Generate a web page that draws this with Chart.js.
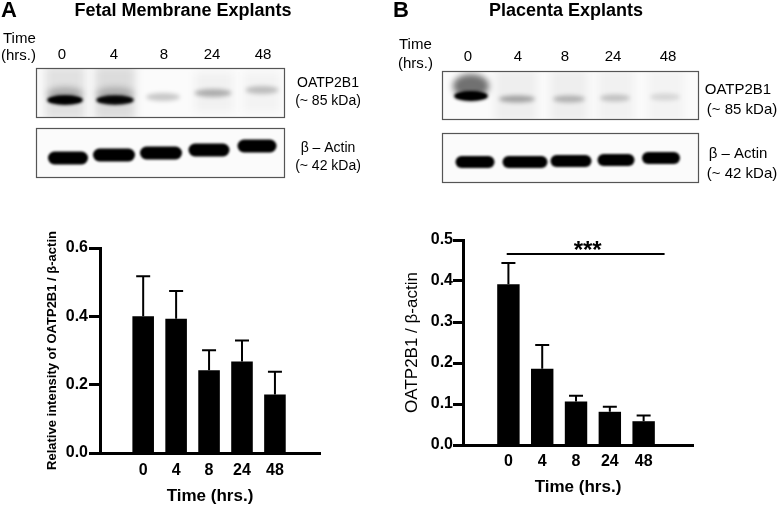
<!DOCTYPE html>
<html>
<head>
<meta charset="utf-8">
<script src="https://cdn.jsdelivr.net/npm/chart.js@4.4.1/dist/chart.umd.min.js"></script>
<style>
body{margin:0;background:#fff;width:782px;height:508px;overflow:hidden;position:relative;font-family:"Liberation Sans",Arial,sans-serif;color:#000}
.t{position:absolute;white-space:nowrap;line-height:1;transform:translate(-50%,-50%)}
.l{position:absolute;white-space:nowrap;line-height:1;transform:translateY(-50%)}
.b{font-weight:bold}
#blots{position:absolute;left:0;top:0}
#chartA{position:absolute;left:0;top:230px}
#chartB{position:absolute;left:391px;top:230px}
</style>
</head>
<body>
<canvas id="blots" width="782" height="230"></canvas>

<div class="l b" style="left:1px;top:10px;font-size:22px">A</div>
<div class="t b" style="left:183px;top:10px;font-size:18px">Fetal Membrane Explants</div>
<div class="l" style="left:3px;top:37px;font-size:15px">Time</div>
<div class="l" style="left:1px;top:54px;font-size:15px">(hrs.)</div>
<div id="lanesA"></div>
<div class="t" style="left:328px;top:82px;font-size:14px">OATP2B1</div>
<div class="t" style="left:328px;top:100px;font-size:14px">(~ 85 kDa)</div>
<div class="t" style="left:328px;top:147px;font-size:14px">β – Actin</div>
<div class="t" style="left:328px;top:165px;font-size:14px">(~ 42 kDa)</div>

<div class="l b" style="left:393px;top:10px;font-size:22px">B</div>
<div class="t b" style="left:566px;top:10px;font-size:18px">Placenta Explants</div>
<div class="l" style="left:399px;top:43px;font-size:15px">Time</div>
<div class="l" style="left:398px;top:62px;font-size:15px">(hrs.)</div>
<div id="lanesB"></div>
<div class="t" style="left:738px;top:88px;font-size:15px">OATP2B1</div>
<div class="t" style="left:742px;top:108px;font-size:15px">(~ 85 kDa)</div>
<div class="t" style="left:738px;top:152px;font-size:15px">β – Actin</div>
<div class="t" style="left:742px;top:172px;font-size:15px">(~ 42 kDa)</div>

<canvas id="chartA" width="340" height="278"></canvas>
<canvas id="chartB" width="391" height="278"></canvas>

<script>
// time points (hrs.)
const timeLabels=['0','4','8','24','48'];

// fetal membrane explants, OATP2B1 / beta-actin, mean and error
const fetalMean=[0.400,0.393,0.242,0.268,0.171];
const fetalErr=[0.117,0.081,0.059,0.061,0.067];
const fetalTicks=[0,0.2,0.4,0.6];

// placenta explants, OATP2B1 / beta-actin, mean and error
const placentaMean=[0.392,0.186,0.106,0.081,0.058];
const placentaErr=[0.052,0.058,0.014,0.012,0.014];
const placentaTicks=[0,0.1,0.2,0.3,0.4,0.5];

// significance bar over placenta chart (x in lane units, y in ratio units)
const sigFrom=-0.05, sigTo=4.62, sigLevel=0.466, sigText='***';

// blot band darkness per lane
const oatpFetal=[0.95,0.85,0.2,0.28,0.22];
const actinFetal=[1,1,1,1,1];
const oatpPlacenta=[1,0.32,0.26,0.2,0.12];
const actinPlacenta=[1,1,1,1,1];

const fontFamily='"Liberation Sans", Arial, sans-serif';
Chart.defaults.font.family=fontFamily;
Chart.defaults.color='#000';

// lane labels above the blots
const laneLabels=(el,xs,y)=>{
    let html='';
    xs.forEach((x,i)=>{
        html+='<div class="t" style="left:'+x+'px;top:'+y+'px;font-size:15px">'+timeLabels[i]+'</div>';
    });
    document.getElementById(el).innerHTML=html;
}
laneLabels('lanesA',[62,114,164,212,263],53);
laneLabels('lanesB',[468,518,565,613,668],55);

// ---------- blots ----------
const bctx=document.getElementById('blots').getContext('2d');

const blotBox=(x,y,w,h,drawInside)=>{
    bctx.save();
    bctx.fillStyle='#fbfbfb';
    bctx.fillRect(x,y,w,h);
    bctx.beginPath();
    bctx.rect(x,y,w,h);
    bctx.clip();
    drawInside();
    bctx.restore();
    bctx.strokeStyle='#555';
    bctx.lineWidth=1.2;
    bctx.strokeRect(x+0.5,y+0.5,w,h);
}

const blob=(cx,cy,w,h,alpha,blur)=>{
    bctx.save();
    bctx.filter='blur('+blur+'px)';
    bctx.fillStyle='rgba(0,0,0,'+alpha+')';
    bctx.beginPath();
    bctx.ellipse(cx,cy,w/2,h/2,0,0,Math.PI*2);
    bctx.fill();
    bctx.restore();
}

const actinBand=(cx,cy,w,h,alpha)=>{
    bctx.save();
    bctx.filter='blur(1.3px)';
    bctx.fillStyle='rgba(0,0,0,'+alpha+')';
    bctx.beginPath();
    bctx.roundRect(cx-w/2,cy-h/2,w,h,h/2);
    bctx.fill();
    bctx.restore();
}

const haze=(x,y,w,h,alpha)=>{
    bctx.save();
    bctx.filter='blur(4px)';
    bctx.fillStyle='rgba(0,0,0,'+alpha+')';
    bctx.fillRect(x,y,w,h);
    bctx.restore();
}

// A: fetal membrane
blotBox(36,68,248,49,()=>{
    const xs=[65,115,163,213,262], ys=[100,100,97,93,90], ws=[36,38,34,37,33];
    haze(45,66,40,54,0.10);
    haze(95,66,40,54,0.12);
    haze(195,72,38,40,0.04);
    haze(244,72,36,40,0.03);
    xs.forEach((x,i)=>{
        const a=oatpFetal[i];
        if (a>0.5){
            blob(x,ys[i]-6,ws[i],14,a*0.25,3);
            blob(x,ys[i],ws[i],10,a,1.8);
            blob(x,ys[i],ws[i]-4,6,a,1);
        }else{
            blob(x,ys[i],ws[i],8,a,2.2);
        }
    });
});
blotBox(36,128,248,49,()=>{
    const xs=[68,114,161,209,257], ys=[158,155,153,150,146], ws=[40,42,42,41,39];
    xs.forEach((x,i)=>{
        actinBand(x,ys[i],ws[i],13,actinFetal[i]);
    });
});

// B: placenta
blotBox(442,71,256,48,()=>{
    const xs=[471,517,569,615,665], ys=[96,99,99,98,97], ws=[34,36,32,30,30];
    haze(495,70,42,52,0.05);
    haze(550,70,38,52,0.05);
    haze(598,70,36,52,0.04);
    haze(648,70,36,52,0.03);
    xs.forEach((x,i)=>{
        const a=oatpPlacenta[i];
        if (a>0.5){
            blob(x,86,ws[i]+2,24,a*0.55,3);
            blob(x,96,ws[i],10,a,1.6);
            blob(x,96,ws[i]-4,6,a,0.8);
        }else{
            blob(x,ys[i],ws[i],7,a,2);
        }
    });
});
blotBox(442,133,256,49,()=>{
    const xs=[475,525,571,616,661], ys=[162,162,161,160,158], ws=[39,45,41,37,38];
    xs.forEach((x,i)=>{
        actinBand(x,ys[i],ws[i],12,actinPlacenta[i]);
    });
});

// ---------- bar charts ----------
const errorBarPlugin={
    id:'errorBars',
    afterDatasetsDraw(chart){
        const ctx=chart.ctx;
        const ds=chart.data.datasets[0];
        const meta=chart.getDatasetMeta(0);
        const yScale=chart.scales.y;
        ctx.save();
        ctx.strokeStyle='#000';
        ctx.lineWidth=2;
        meta.data.forEach((bar,i)=>{
            const top=yScale.getPixelForValue(ds.data[i].y+ds.errors[i]);
            ctx.beginPath();
            ctx.moveTo(bar.x,bar.y);
            ctx.lineTo(bar.x,top);
            ctx.moveTo(bar.x-7,top);
            ctx.lineTo(bar.x+7,top);
            ctx.stroke();
        });
        ctx.restore();
    }
}

const sigPlugin={
    id:'sigBar',
    afterDraw(chart,args,opts){
        if (!opts.show) return;
        const ctx=chart.ctx;
        const xs=chart.scales.x, ys=chart.scales.y;
        const y=ys.getPixelForValue(sigLevel);
        const x1=xs.getPixelForValue(sigFrom), x2=xs.getPixelForValue(sigTo);
        ctx.save();
        ctx.strokeStyle='#000';
        ctx.lineWidth=2;
        ctx.beginPath();
        ctx.moveTo(x1,y);
        ctx.lineTo(x2,y);
        ctx.stroke();
        ctx.fillStyle='#000';
        ctx.font='bold 24px '+fontFamily;
        ctx.textAlign='center';
        ctx.textBaseline='alphabetic';
        ctx.fillText(sigText,(x1+x2)/2+2,y+4);
        ctx.restore();
    }
}

const buildChart=(id,means,errs,yTicks,setup)=>{
    return new Chart(document.getElementById(id),{
        type:'bar',
        data:{
            datasets:[{
                data:means.map((m,i)=>({x:i,y:m})),
                errors:errs,
                backgroundColor:'#000',
                borderWidth:0,
                barPercentage:setup.barPct,
                categoryPercentage:1
            }]
        },
        options:{
            responsive:false,
            animation:false,
            layout:{padding:{top:setup.top,right:setup.right,bottom:0,left:0}},
            plugins:{
                legend:{display:false},
                tooltip:{enabled:false},
                sigBar:{show:setup.sig}
            },
            scales:{
                x:{
                    type:'linear',
                    min:setup.xMin,
                    max:setup.xMax,
                    afterBuildTicks:s=>{s.ticks=timeLabels.map((t,i)=>({value:i}))},
                    ticks:{
                        autoSkip:false,
                        maxRotation:0,
                        padding:setup.xPad,
                        font:{size:16,weight:'bold'},
                        callback:(v,i)=>timeLabels[i]
                    },
                    grid:{display:false,drawTicks:false},
                    border:{display:true,color:'#000',width:3},
                    title:{
                        display:true,
                        text:'Time (hrs.)',
                        font:{size:17,weight:'bold'},
                        padding:{top:0,bottom:setup.xTitlePad}
                    },
                    afterFit:s=>{s.height=setup.xHeight}
                },
                y:{
                    min:0,
                    max:yTicks[yTicks.length-1],
                    afterBuildTicks:s=>{s.ticks=yTicks.map(v=>({value:v}))},
                    ticks:{
                        padding:setup.yPad,
                        font:{size:16,weight:'bold'},
                        callback:v=>v.toFixed(1)
                    },
                    grid:{drawOnChartArea:false,drawTicks:true,tickLength:setup.tickLen,tickWidth:3,color:'#000'},
                    border:{display:true,color:'#000',width:3},
                    title:{
                        display:true,
                        text:setup.yTitle,
                        font:setup.yTitleFont,
                        padding:{top:setup.yTitlePad,bottom:0}
                    },
                    afterFit:s=>{s.width=setup.yWidth}
                }
            }
        },
        plugins:[errorBarPlugin,sigPlugin]
    });
}

buildChart('chartA',fetalMean,fetalErr,fetalTicks,{
    barPct:0.655, xMin:-0.643, xMax:4.70,
    top:18, right:20, yWidth:100, xHeight:55,
    xPad:8, xTitlePad:1, yPad:1, tickLen:11,
    yTitle:'Relative intensity of OATP2B1 / β-actin',
    yTitleFont:{size:13,weight:'bold'}, yTitlePad:44.2,
    sig:false
});

buildChart('chartB',placentaMean,placentaErr,placentaTicks,{
    barPct:0.663, xMin:-0.663, xMax:4.78,
    top:10, right:89, yWidth:72, xHeight:63,
    xPad:7, xTitlePad:10, yPad:0, tickLen:10,
    yTitle:'OATP2B1 / β-actin',
    yTitleFont:{size:17,weight:'normal'}, yTitlePad:10.8,
    sig:true
});
</script>
</body>
</html>
